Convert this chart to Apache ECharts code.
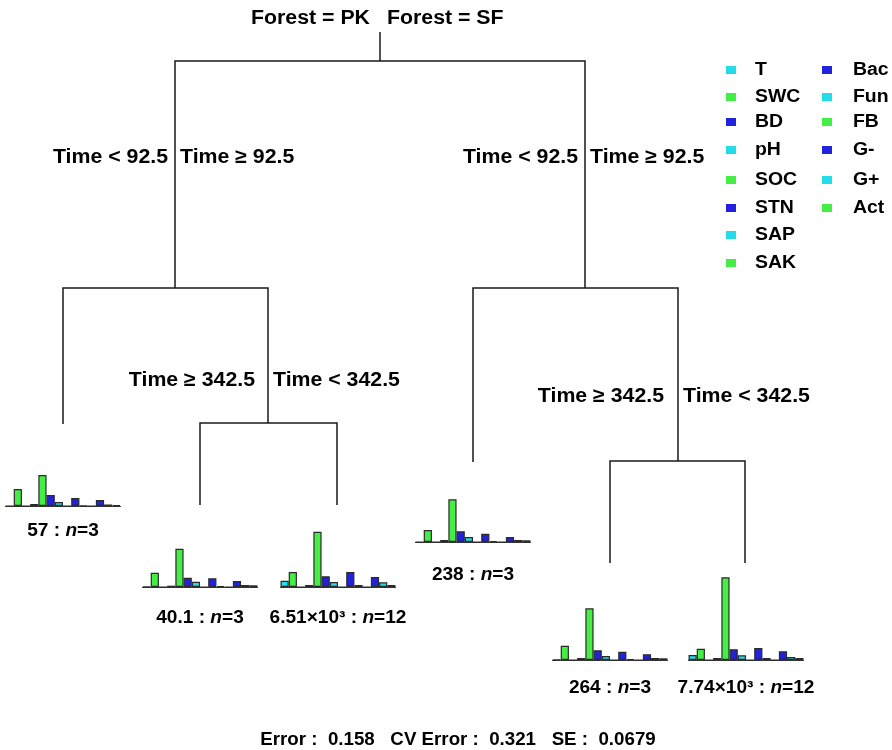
<!DOCTYPE html>
<html>
<head>
<meta charset="utf-8">
<script src="https://cdn.jsdelivr.net/npm/echarts@6/dist/echarts.min.js"></script>
<style>html,body{margin:0;padding:0;background:#fff;}#c{width:892px;height:750px;}</style>
</head>
<body>
<div id="c"></div>
<script>
// ---- data ----
var variables = ['T','SWC','BD','pH','SOC','STN','SAP','SAK','Bac','Fun','FB','G-','G+','Act'];
var leafNames = ['57', '40.1', '6.51×10³', '238', '264', '7.74×10³'];
var leafN = [3, 3, 12, 3, 3, 12];
var leaf57   = [0, 17, 0, 2, 31, 11, 4, 0, 8, 0.5, 0, 6, 1.5, 1];
var leaf40   = [0.5, 14.3, 0, 1.3, 38.3, 9.3, 5.3, 0, 8.7, 1, 0, 6, 2, 1.7];
var leaf6510 = [6.3, 15, 0, 2, 55.3, 10.7, 5, 0, 15, 2, 0, 10, 4.7, 2];
var leaf238  = [0, 12, 0, 2, 42.7, 10.7, 5, 0, 8.3, 1, 0, 5, 2, 1.7];
var leaf264  = [0.5, 14.3, 0, 2, 51.7, 9.7, 4, 0, 8.3, 1, 0, 5.7, 2, 1.7];
var leaf7740 = [5, 11.3, 0, 2, 82.7, 10.7, 4.7, 0, 12, 2, 0, 8.7, 3, 2];
var splitRoot = ['Forest = PK', 'Forest = SF'];
var splitTime1 = ['Time < 92.5', 'Time ≥ 92.5'];
var splitTime2 = ['Time ≥ 342.5', 'Time < 342.5'];
var errorText = 'Error :  0.158   CV Error :  0.321   SE :  0.0679';

// ---- layout / style ----
var palette = ['#22dde8', '#44ee44', '#2222dd'];
var leafData = [leaf57, leaf40, leaf6510, leaf238, leaf264, leaf7740];
var leafCenter = [63, 200, 338, 473, 610, 746];
var leafBase = [506, 587, 587, 542, 660, 660];
var leafLabelY = [531, 618, 618, 575, 688, 688];
var barW = 115, barH = 90;
var FONT = '"Liberation Sans", Arial, sans-serif';

var grids = [{left: 0, top: 0, width: 892, height: 750}];
var xAxes = [{gridIndex: 0, type: 'value', min: 0, max: 892, show: false}];
var yAxes = [{gridIndex: 0, type: 'value', min: 0, max: 750, inverse: true, show: false}];
var series = [];

// tree branches drawn through the full-canvas cartesian system
var branches = [
  [[380, 32], [380, 61]],
  [[175, 288], [175, 61], [585, 61], [585, 288]],
  [[63, 424], [63, 288], [268, 288], [268, 423]],
  [[200, 505], [200, 423], [337, 423], [337, 505]],
  [[473, 462], [473, 288], [678, 288], [678, 461]],
  [[610, 563], [610, 461], [745, 461], [745, 563]]
];
series.push({
  type: 'lines', coordinateSystem: 'cartesian2d', xAxisIndex: 0, yAxisIndex: 0,
  polyline: true, silent: true,
  lineStyle: {color: '#1a1a1a', width: 1.5, opacity: 1},
  data: branches.map(function (c) { return {coords: c}; })
});

leafData.forEach(function (d, i) {
  var gi = i + 1;
  grids.push({left: leafCenter[i] - barW / 2, top: leafBase[i] - barH, width: barW, height: barH});
  xAxes.push({gridIndex: gi, type: 'category', data: variables,
    axisLine: {show: true, lineStyle: {color: '#333', width: 1.2}},
    axisTick: {show: false}, axisLabel: {show: false}, splitLine: {show: false}});
  yAxes.push({gridIndex: gi, type: 'value', min: 0, max: barH, show: false, splitLine: {show: false}});
  series.push({
    type: 'bar', xAxisIndex: gi, yAxisIndex: gi, data: d,
    barWidth: barW / variables.length, barCategoryGap: '0%', silent: true,
    itemStyle: {
      color: function (p) { return palette[p.dataIndex % 3]; },
      borderColor: '#2a2a2a', borderWidth: 1.2
    }
  });
});

// ---- text ----
var graphics = [];
function txt(x, y, text, size, align, sx, rich) {
  var st = {text: text, fontFamily: FONT, fontWeight: 'bold', fontSize: size, fill: '#000',
    align: align, textAlign: align, verticalAlign: 'middle', textVerticalAlign: 'middle'};
  if (rich) st.rich = rich;
  graphics.push({type: 'text', x: x, y: y, scaleX: sx, style: st, silent: true});
}
var SPL = 20, SSX = 1.065;
txt(370, 18, splitRoot[0], SPL, 'right', SSX);
txt(387, 18, splitRoot[1], SPL, 'left', SSX);
txt(168, 157, splitTime1[0], SPL, 'right', SSX);
txt(180, 157, splitTime1[1], SPL, 'left', SSX);
txt(578, 157, splitTime1[0], SPL, 'right', SSX);
txt(590, 157, splitTime1[1], SPL, 'left', SSX);
txt(255, 380, splitTime2[0], SPL, 'right', SSX);
txt(273, 380, splitTime2[1], SPL, 'left', SSX);
txt(664, 396, splitTime2[0], SPL, 'right', SSX);
txt(683, 396, splitTime2[1], SPL, 'left', SSX);

var richLeaf = {
  a: {fontFamily: FONT, fontWeight: 'bold', fontSize: 18, fill: '#000'},
  i: {fontFamily: FONT, fontWeight: 'bold', fontStyle: 'italic', fontSize: 18, fill: '#000'}
};
leafNames.forEach(function (nm, i) {
  txt(leafCenter[i], leafLabelY[i], '{a|' + nm + ' : }{i|n}{a|=' + leafN[i] + '}', 18, 'center', 1.06, richLeaf);
});

// legend
var legRowY = [70, 97, 122, 150, 180, 208, 235, 263];
variables.forEach(function (v, k) {
  var col = k < 8 ? 0 : 1;
  var row = k < 8 ? k : k - 8;
  var sqX = col === 0 ? 726 : 822;
  var tX = col === 0 ? 755 : 853;
  graphics.push({type: 'rect', shape: {x: sqX, y: legRowY[row] - 4, width: 10, height: 8},
    style: {fill: palette[k % 3]}, silent: true});
  txt(tX, legRowY[row], v, 18, 'left', 1.08);
});

txt(458, 740, errorText, 18, 'center', 1.04);

var chart = echarts.init(document.getElementById('c'));
chart.setOption({
  animation: false,
  backgroundColor: '#fff',
  grid: grids, xAxis: xAxes, yAxis: yAxes, series: series,
  graphic: graphics
});
</script>
</body>
</html>
